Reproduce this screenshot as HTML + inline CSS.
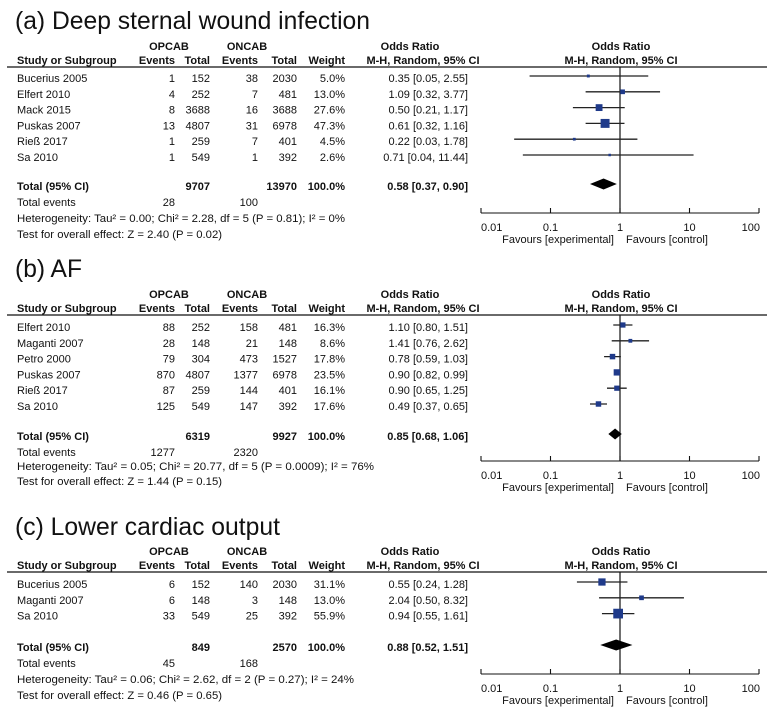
<!DOCTYPE html>
<html><head><meta charset="utf-8">
<style>
html,body{margin:0;padding:0;background:#fff;}
svg{display:block;font-family:"Liberation Sans",Arial,sans-serif;}
</style></head>
<body>
<svg id="chart" width="767" height="712" viewBox="0 0 767 712" xmlns="http://www.w3.org/2000/svg"></svg>
<script>
// ---------- Panel (a) Deep sternal wound infection ----------
const aStudies = ["Bucerius 2005","Elfert 2010","Mack 2015","Puskas 2007","Rieß 2017","Sa 2010"];
const aEv1 = [1,4,8,13,1,1];
const aTot1 = [152,252,3688,4807,259,549];
const aEv2 = [38,7,16,31,7,1];
const aTot2 = [2030,481,3688,6978,401,392];
const aWeight = [5.0,13.0,27.6,47.3,4.5,2.6];
const aOR = [0.35,1.09,0.50,0.61,0.22,0.71];
const aLo = [0.05,0.32,0.21,0.32,0.03,0.04];
const aHi = [2.55,3.77,1.17,1.16,1.78,11.44];
const aTotal = [0.58,0.37,0.90];
const aSums = [9707,13970,28,100];
// ---------- Panel (b) AF ----------
const bStudies = ["Elfert 2010","Maganti 2007","Petro 2000","Puskas 2007","Rieß 2017","Sa 2010"];
const bEv1 = [88,28,79,870,87,125];
const bTot1 = [252,148,304,4807,259,549];
const bEv2 = [158,21,473,1377,144,147];
const bTot2 = [481,148,1527,6978,401,392];
const bWeight = [16.3,8.6,17.8,23.5,16.1,17.6];
const bOR = [1.10,1.41,0.78,0.90,0.90,0.49];
const bLo = [0.80,0.76,0.59,0.82,0.65,0.37];
const bHi = [1.51,2.62,1.03,0.99,1.25,0.65];
const bTotal = [0.85,0.68,1.06];
const bSums = [6319,9927,1277,2320];
// ---------- Panel (c) Lower cardiac output ----------
const cStudies = ["Bucerius 2005","Maganti 2007","Sa 2010"];
const cEv1 = [6,6,33];
const cTot1 = [152,148,549];
const cEv2 = [140,3,25];
const cTot2 = [2030,148,392];
const cWeight = [31.1,13.0,55.9];
const cOR = [0.55,2.04,0.94];
const cLo = [0.24,0.50,0.55];
const cHi = [1.28,8.32,1.61];
const cTotal = [0.88,0.52,1.51];
const cSums = [849,2570,45,168];
const axisTicks = [0.01,0.1,1,10,100];
const axisTickLabels = ["0.01","0.1","1","10","100"];

const NS="http://www.w3.org/2000/svg";
const svg=document.getElementById('chart');
function el(tag,attrs,parent){const e=document.createElementNS(NS,tag);for(const k in attrs)e.setAttribute(k,attrs[k]);(parent||svg).appendChild(e);return e;}
function txt(s,x,y,opt,parent){opt=opt||{};const t=el('text',{x:x,y:y,'font-size':opt.size||11,'text-anchor':opt.anchor||'start',fill:'#111'},parent);
 if(opt.bold)t.setAttribute('font-weight','bold');
 if(opt.len){t.setAttribute('textLength',opt.len);t.setAttribute('lengthAdjust','spacingAndGlyphs');}
 if(opt.deco)t.setAttribute('text-decoration','underline');
 t.textContent=s;return t;}
function fmt(v){return v.toFixed(2);}
// log axis
const X0=620, DEC=69.5;
function xs(v){return X0+DEC*Math.log10(v);}

function panel(cfg){
 const g=el('g',{});
 
 
 const t=txt(cfg.title,15,cfg.titleY,{size:25,len:cfg.titleLen},g);
 
 
 const R=cfg.rule;
 const hdr=el('g',{},g);
 
 
 txt('OPCAB',169,R-17,{bold:true,anchor:'middle'},hdr);
 txt('ONCAB',247,R-17,{bold:true,anchor:'middle'},hdr);
 txt('Odds Ratio',410,R-17,{bold:true,anchor:'middle'},hdr);
 txt('Odds Ratio',621,R-17,{bold:true,anchor:'middle'},hdr);
 txt('Study or Subgroup',17,R-3,{bold:true},hdr);
 txt('Events',175,R-3,{bold:true,anchor:'end'},hdr);
 txt('Total',210,R-3,{bold:true,anchor:'end'},hdr);
 txt('Events',258,R-3,{bold:true,anchor:'end'},hdr);
 txt('Total',297,R-3,{bold:true,anchor:'end'},hdr);
 txt('Weight',345,R-3,{bold:true,anchor:'end'},hdr);
 txt('M-H, Random, 95% CI',423,R-3,{bold:true,anchor:'middle'},hdr);
 txt('M-H, Random, 95% CI',621,R-3,{bold:true,anchor:'middle'},hdr);
 el('line',{x1:7,y1:R,x2:767,y2:R,stroke:'#111','stroke-width':1.2},g);
 // vertical line of no effect
 const vl=el('line',{x1:xs(1),y1:R,x2:xs(1),y2:cfg.axisY,stroke:'#111','stroke-width':1.2},g);
 
 
 for(let i=0;i<cfg.studies.length;i++){
  const y=cfg.row0+i*cfg.step;
  const row=el('g',{},g);
  
  
  txt(cfg.studies[i],17,y+4,{},row);
  txt(String(cfg.ev1[i]),175,y+4,{anchor:'end'},row);
  txt(String(cfg.tot1[i]),210,y+4,{anchor:'end'},row);
  txt(String(cfg.ev2[i]),258,y+4,{anchor:'end'},row);
  txt(String(cfg.tot2[i]),297,y+4,{anchor:'end'},row);
  txt(cfg.w[i].toFixed(1)+'%',345,y+4,{anchor:'end'},row);
  txt(fmt(cfg.or[i])+' ['+fmt(cfg.lo[i])+', '+fmt(cfg.hi[i])+']',468,y+4,{anchor:'end'},row);
  const my=y-2;
  const ci=el('line',{x1:xs(cfg.lo[i]),y1:my,x2:xs(cfg.hi[i]),y2:my,stroke:'#222','stroke-width':1.3},row);
  
  
  const s=Math.max(2.5,1.3*Math.sqrt(cfg.w[i]));
  const sq=el('rect',{x:xs(cfg.or[i])-s/2,y:my-s/2,width:s,height:s,fill:'#1f3a8a'},row);
  
  
 }
 const ty=cfg.totalY;
 const tr=el('g',{},g);
 
 
 txt('Total (95% CI)',17,ty+4,{bold:true},tr);
 txt(String(cfg.sums[0]),210,ty+4,{bold:true,anchor:'end'},tr);
 txt(String(cfg.sums[1]),297,ty+4,{bold:true,anchor:'end'},tr);
 txt('100.0%',345,ty+4,{bold:true,anchor:'end'},tr);
 txt(fmt(cfg.total[0])+' ['+fmt(cfg.total[1])+', '+fmt(cfg.total[2])+']',468,ty+4,{bold:true,anchor:'end'},tr);
 const dy=ty-2;
 const d=el('polygon',{points:`${xs(cfg.total[1])},${dy} ${xs(cfg.total[0])},${dy-5.5} ${xs(cfg.total[2])},${dy} ${xs(cfg.total[0])},${dy+5.5}`,fill:'#000'},tr);
 
 
 txt('Total events',17,cfg.evY+4,{},g);
 txt(String(cfg.sums[2]),175,cfg.evY+4,{anchor:'end'},g);
 txt(String(cfg.sums[3]),258,cfg.evY+4,{anchor:'end'},g);
 txt(cfg.het,17,cfg.hetY+4,{len:cfg.hetLen},g);
 txt(cfg.test,17,cfg.testY+4,{len:cfg.testLen},g);
 // axis
 const ax=el('g',{},g);
 
 
 const A=cfg.axisY;
 el('line',{x1:xs(axisTicks[0]),y1:A,x2:xs(axisTicks[axisTicks.length-1]),y2:A,stroke:'#111','stroke-width':1.1},ax);
 axisTicks.forEach((v,i)=>{
  el('line',{x1:xs(v),y1:A,x2:xs(v),y2:A-5,stroke:'#111','stroke-width':1.1},ax);
  let anc='middle',xx=xs(v);
  if(i===0){anc='start';xx=xs(v);} if(i===axisTicks.length-1){anc='end';xx=xs(v)+1;}
  txt(axisTickLabels[i],xx,A+18,{anchor:anc},ax);
 });
 txt('Favours [experimental]',xs(1)-6,A+30,{anchor:'end'},ax);
 txt('Favours [control]',xs(1)+6,A+30,{anchor:'start'},ax);
}

panel({name:'panel-a-deep-sternal-wound-infection',title:'(a) Deep sternal wound infection',titleY:29,titleLen:355,rule:67,
 studies:aStudies,ev1:aEv1,tot1:aTot1,ev2:aEv2,tot2:aTot2,w:aWeight,or:aOR,lo:aLo,hi:aHi,total:aTotal,sums:aSums,
 row0:78,step:15.8,totalY:186,evY:202,hetY:218,testY:234,axisY:213,
 het:'Heterogeneity: Tau² = 0.00; Chi² = 2.28, df = 5 (P = 0.81); I² = 0%',hetLen:328,
 test:'Test for overall effect: Z = 2.40 (P = 0.02)',testLen:205});
panel({name:'panel-b-af',title:'(b) AF',titleY:277,titleLen:67,rule:315,
 studies:bStudies,ev1:bEv1,tot1:bTot1,ev2:bEv2,tot2:bTot2,w:bWeight,or:bOR,lo:bLo,hi:bHi,total:bTotal,sums:bSums,
 row0:327,step:15.8,totalY:436,evY:452,hetY:466,testY:481,axisY:461,
 het:'Heterogeneity: Tau² = 0.05; Chi² = 20.77, df = 5 (P = 0.0009); I² = 76%',hetLen:357,
 test:'Test for overall effect: Z = 1.44 (P = 0.15)',testLen:205});
panel({name:'panel-c-lower-cardiac-output',title:'(c) Lower cardiac output',titleY:535,titleLen:265,rule:572,
 studies:cStudies,ev1:cEv1,tot1:cTot1,ev2:cEv2,tot2:cTot2,w:cWeight,or:cOR,lo:cLo,hi:cHi,total:cTotal,sums:cSums,
 row0:584,step:15.8,totalY:647,evY:663,hetY:679,testY:695,axisY:674,
 het:'Heterogeneity: Tau² = 0.06; Chi² = 2.62, df = 2 (P = 0.27); I² = 24%',hetLen:337,
 test:'Test for overall effect: Z = 0.46 (P = 0.65)',testLen:205});
</script>
</body></html>
